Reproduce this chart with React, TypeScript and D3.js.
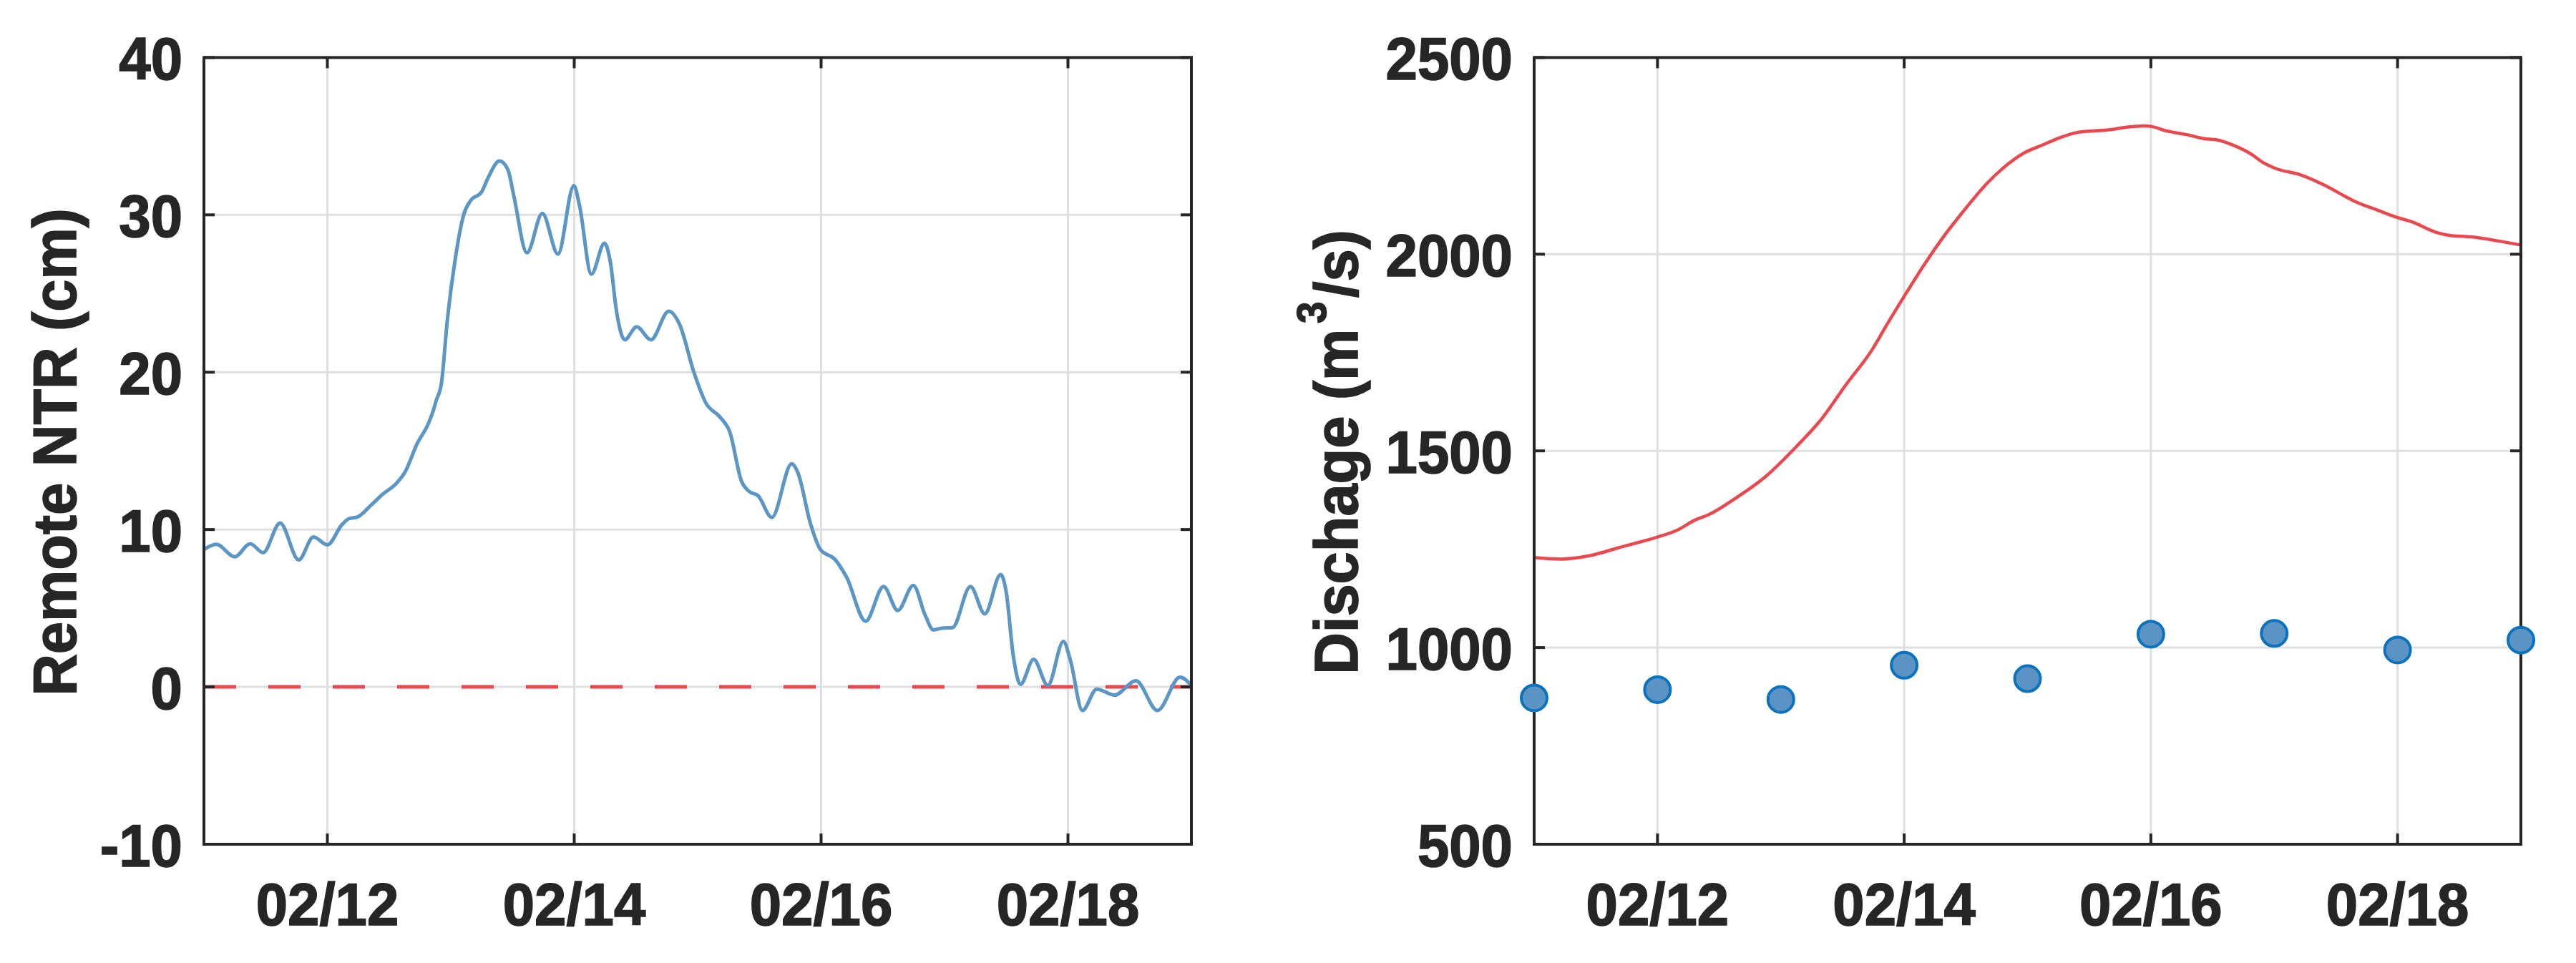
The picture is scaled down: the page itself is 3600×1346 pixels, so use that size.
import React from 'react';
import * as d3 from 'd3';

// ---------- data ----------
// Remote NTR (cm) vs day of February
const ntrDays = [
  11.0, 11.1, 11.25, 11.375, 11.48, 11.617, 11.768, 11.887, 12.0, 12.119, 12.177, 12.245, 12.351,
  12.448, 12.563, 12.631, 12.728, 12.815, 12.853, 12.882, 12.924, 12.973, 13.04, 13.104, 13.162,
  13.249, 13.307, 13.394, 13.462, 13.51, 13.617, 13.742, 13.868, 13.997, 14.042, 14.139, 14.245,
  14.293, 14.341, 14.409, 14.506, 14.621, 14.766, 14.853, 14.969, 15.066, 15.182, 15.259, 15.356,
  15.414, 15.491, 15.601, 15.762, 15.81, 15.916, 15.994, 16.11, 16.206, 16.361, 16.506, 16.621,
  16.747, 16.843, 16.91, 16.978, 17.065, 17.21, 17.326, 17.455, 17.499, 17.557, 17.615, 17.722,
  17.837, 17.963, 18.02, 18.117, 18.233, 18.377, 18.551, 18.725, 18.908, 19.0,
];
const ntrValues = [
  8.73, 9.06, 8.27, 9.1, 8.53, 10.42, 8.07, 9.53, 9.03, 10.32, 10.7, 10.8, 11.53,
  12.24, 12.97, 13.68, 15.47, 16.68, 17.44, 18.2, 19.3, 23.4, 27.4, 30.0, 30.92,
  31.45, 32.44, 33.42, 32.89, 31.23, 27.59, 30.09, 27.51, 31.86, 30.62, 26.23, 28.2,
  26.98, 23.95, 22.06, 22.89, 22.06, 23.88, 23.05, 20.01, 18.05, 17.14, 16.23, 13.05,
  12.44, 12.14, 10.77, 14.18, 13.65, 10.32, 8.73, 8.12, 6.98, 4.18, 6.38, 4.86,
  6.45, 4.56, 3.62, 3.73, 3.77, 6.38, 4.64, 7.14, 6.07, 1.98, 0.16, 1.75,
  0.09, 2.89, 1.68, -1.5, -0.14, -0.52, 0.39, -1.5, 0.62, 0.09,
];

// Modelled discharge (m^3/s)
const qDays = [
  11.0, 11.22, 11.44, 11.72, 12.0, 12.15, 12.31, 12.41, 12.64, 12.87, 13.12, 13.33, 13.53, 13.74,
  13.86, 14.0, 14.17, 14.32, 14.5, 14.65, 14.81, 14.97, 15.11, 15.26, 15.41, 15.68, 15.76, 15.95,
  16.0, 16.12, 16.32, 16.43, 16.53, 16.66, 16.82, 16.9, 17.02, 17.2, 17.41, 17.57, 17.67, 17.83,
  18.0, 18.11, 18.32, 18.42, 18.6, 18.81, 18.99,
];
const qValues = [
  1229, 1225, 1233, 1257, 1281, 1297, 1325, 1337, 1381, 1433, 1509, 1581, 1669, 1757,
  1821, 1893, 1977, 2045, 2117, 2173, 2221, 2257, 2276, 2296, 2310, 2317, 2321, 2326,
  2325, 2314, 2302, 2294, 2291, 2278, 2253, 2235, 2217, 2203, 2175, 2148, 2132, 2113,
  2093, 2083, 2055, 2048, 2044, 2034, 2024,
];

// Observed daily discharge (m^3/s)
const obsDays = [11, 12, 13, 14, 15, 16, 17, 18, 19];
const obsValues = [872, 893, 868, 955, 921, 1034, 1036, 994, 1019];

// ticks
const xTickDays = [12, 14, 16, 18];
const xTickLabels = ['02/12', '02/14', '02/16', '02/18'];
const ntrTicks = [-10, 0, 10, 20, 30, 40];
const qTicks = [500, 1000, 1500, 2000, 2500];

// ---------- style ----------
const FONT = '"Liberation Sans", Arial, Helvetica, sans-serif';
const INK = '#262626';
const GRID = '#dfdfdf';
const BLUE = '#5b96c4';
const RED = '#e9494e';
const TICK_FS = 84;
const LABEL_FS = 86;
const SX = 0.95;
const TEXT_STROKE = 1.6;

const TOP = 80.4;
const BOTTOM = 1180;

type PanelProps = {
  id: string;
  x: d3.ScaleLinear<number, number>;
  y: d3.ScaleLinear<number, number>;
  yTicks: number[];
  under: React.ReactNode;
  over?: React.ReactNode;
};

function Panel({ id, x, y, yTicks, under, over }: PanelProps) {
  const [x0, x1] = x.range();
  const [y1, y0] = y.range();
  const tl = 15;
  return (
    <g>
      <defs>
        <clipPath id={id}>
          <rect x={x0} y={y0} width={x1 - x0} height={y1 - y0} />
        </clipPath>
      </defs>
      {/* grid */}
      {xTickDays.map((d) => (
        <line key={'gx' + d} x1={x(d)} x2={x(d)} y1={y0} y2={y1} stroke={GRID} strokeWidth={3} />
      ))}
      {yTicks.map((v) => (
        <line key={'gy' + v} x1={x0} x2={x1} y1={y(v)} y2={y(v)} stroke={GRID} strokeWidth={3} />
      ))}
      <g clipPath={`url(#${id})`}>{under}</g>
      {/* box */}
      <rect x={x0} y={y0} width={x1 - x0} height={y1 - y0} fill="none" stroke={INK} strokeWidth={4} />
      {/* ticks */}
      {xTickDays.map((d) => (
        <g key={'tx' + d}>
          <line x1={x(d)} x2={x(d)} y1={y1} y2={y1 - tl} stroke={INK} strokeWidth={4} />
          <line x1={x(d)} x2={x(d)} y1={y0} y2={y0 + tl} stroke={INK} strokeWidth={4} />
        </g>
      ))}
      {yTicks.map((v) => (
        <g key={'ty' + v}>
          <line x1={x0} x2={x0 + tl} y1={y(v)} y2={y(v)} stroke={INK} strokeWidth={4} />
          <line x1={x1} x2={x1 - tl} y1={y(v)} y2={y(v)} stroke={INK} strokeWidth={4} />
        </g>
      ))}
      {/* tick labels */}
      {xTickDays.map((d, i) => (
        <text
          key={'lx' + d}
          transform={`translate(${x(d)},${BOTTOM + 113}) scale(${SX},1)`}
          textAnchor="middle"
          fontFamily={FONT}
          fontWeight="bold"
          fontSize={TICK_FS}
          fill={INK}
          stroke={INK}
          strokeWidth={TEXT_STROKE}
        >
          {xTickLabels[i]}
        </text>
      ))}
      {yTicks.map((v) => (
        <text
          key={'ly' + v}
          transform={`translate(${x0 - 30},${y(v) + 31}) scale(${SX},1)`}
          textAnchor="end"
          fontFamily={FONT}
          fontWeight="bold"
          fontSize={TICK_FS}
          fill={INK}
          stroke={INK}
          strokeWidth={TEXT_STROKE}
        >
          {String(v)}
        </text>
      ))}
      {over}
    </g>
  );
}

export default function App() {
  const xL = d3.scaleLinear().domain([11, 19]).range([285, 1665]);
  const yL = d3.scaleLinear().domain([-10, 40]).range([BOTTOM, TOP]);
  const xR = d3.scaleLinear().domain([11, 19]).range([2144, 3523]);
  const yR = d3.scaleLinear().domain([500, 2500]).range([BOTTOM, TOP]);

  const ntrLine = d3
    .line<number>()
    .x((_, i) => xL(ntrDays[i]))
    .y((v) => yL(v))
    .curve(d3.curveMonotoneX)(ntrValues) as string;

  const qLine = d3
    .line<number>()
    .x((_, i) => xR(qDays[i]))
    .y((v) => yR(v))
    .curve(d3.curveMonotoneX)(qValues) as string;

  return (
    <svg
      width={3600}
      height={1346}
      viewBox="0 0 3600 1346"
      style={{ position: 'absolute', left: 0, top: 0, background: '#fff' }}
    >
      <rect x={0} y={0} width={3600} height={1346} fill="#fff" />
      <Panel
        id="clipL"
        x={xL}
        y={yL}
        yTicks={ntrTicks}
        under={
          <g>
            <line
              x1={xL(11)}
              x2={xL(19)}
              y1={yL(0)}
              y2={yL(0)}
              stroke={RED}
              strokeWidth={5}
              strokeDasharray="45 45"
            />
            <path d={ntrLine} fill="none" stroke={BLUE} strokeWidth={5} strokeLinejoin="round" />
          </g>
        }
      />
      <text
        transform={`translate(106,632) rotate(-90) scale(0.945,1)`}
        textAnchor="middle"
        fontFamily={FONT}
        fontWeight="bold"
        fontSize={LABEL_FS}
        fill={INK}
        stroke={INK}
        strokeWidth={TEXT_STROKE}
      >
        Remote NTR (cm)
      </text>

      <Panel
        id="clipR"
        x={xR}
        y={yR}
        yTicks={qTicks}
        under={<path d={qLine} fill="none" stroke={RED} strokeWidth={4.5} strokeLinejoin="round" />}
        over={
          <g>
            {obsValues.map((v, i) => (
              <circle
                key={'o' + i}
                cx={xR(obsDays[i])}
                cy={yR(v)}
                r={18}
                fill="#5b94c4"
                stroke="#0b72be"
                strokeWidth={4}
              />
            ))}
          </g>
        }
      />
      <text
        transform={`translate(1897,632) rotate(-90) scale(0.945,1)`}
        textAnchor="middle"
        fontFamily={FONT}
        fontWeight="bold"
        fontSize={LABEL_FS}
        fill={INK}
        stroke={INK}
        strokeWidth={TEXT_STROKE}
      >
        <tspan>Dischage (m</tspan>
        <tspan fontSize={58} dy={-44} dx={8}>3</tspan>
        <tspan dy={44} dx={6}>/s)</tspan>
      </text>
    </svg>
  );
}
